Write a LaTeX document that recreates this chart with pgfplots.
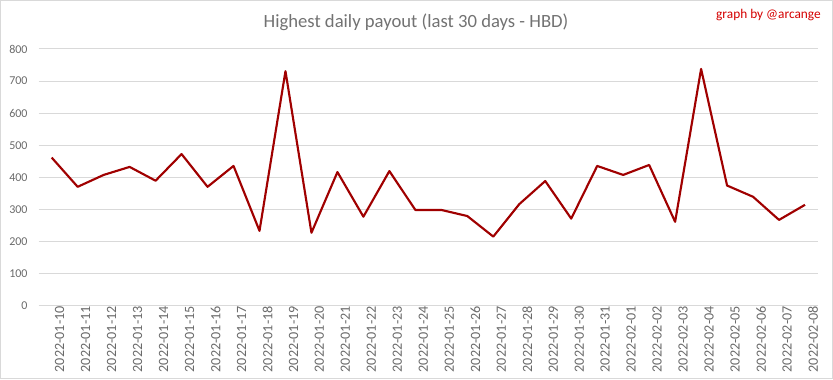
\documentclass[border=0pt]{standalone}
\usepackage{fontspec}
\setmainfont{Carlito}
\usepackage{pgfplots}
\pgfplotsset{compat=1.18}
\definecolor{txt}{HTML}{595959}
\definecolor{grd}{HTML}{D9D9D9}
\definecolor{ln}{HTML}{A00000}
\definecolor{sig}{HTML}{D40000}
\pgfplotstableread{
x y
0 462
1 371
2 408
3 433
4 390
5 473
6 371
7 436
8 234
9 731
10 228
11 417
12 278
13 420
14 299
15 299
16 280
17 216
18 317
19 389
20 272
21 436
22 408
23 439
24 262
25 738
26 375
27 340
28 268
29 315
}\datatable
\begin{document}
\begin{tikzpicture}
\useasboundingbox (0pt,0pt) rectangle (624.75pt,284.25pt);
\draw[grd, line width=0.75pt] (0.6pt,0.6pt) rectangle (624.0pt,283.6pt);
\begin{axis}[
  at={(29.025pt,54.75pt)}, anchor=south west,
  scale only axis, width=584.475pt, height=192.75pt,
  xmin=-0.5, xmax=29.5, ymin=0, ymax=800,
  ytick={0,100,...,800},
  xtick={0,...,29},
  xticklabels={2022-01-10,2022-01-11,2022-01-12,2022-01-13,2022-01-14,2022-01-15,2022-01-16,2022-01-17,2022-01-18,2022-01-19,2022-01-20,2022-01-21,2022-01-22,2022-01-23,2022-01-24,2022-01-25,2022-01-26,2022-01-27,2022-01-28,2022-01-29,2022-01-30,2022-01-31,2022-02-01,2022-02-02,2022-02-03,2022-02-04,2022-02-05,2022-02-06,2022-02-07,2022-02-08},
  axis line style={draw=none},
  major tick length=0pt,
  ymajorgrids, grid style={grd, line width=0.75pt},
  /pgf/number format/assume math mode=true,
  tick label style={font=\fontsize{9}{10}\selectfont, text=txt!90!white},
  yticklabel style={anchor=east, inner sep=0pt, xshift=-8.2pt},
  xticklabel style={font=\fontsize{10.6}{11}\selectfont, rotate=90, anchor=east, inner sep=0pt, yshift=-6pt},
  clip=false,
]
\addplot[ln, line width=1.6pt, line join=round] table[x=x,y=y] {\datatable};
\end{axis}
\node[font=\fontsize{14}{16}\selectfont, text=txt!85!white] at (312pt,267.75pt) {Highest daily payout (last 30 days - HBD)};
\node[font=\fontsize{10}{12}\selectfont, text=sig, anchor=east, inner sep=0pt] at (615.75pt,273pt) {graph by @arcange};
\end{tikzpicture}
\end{document}
